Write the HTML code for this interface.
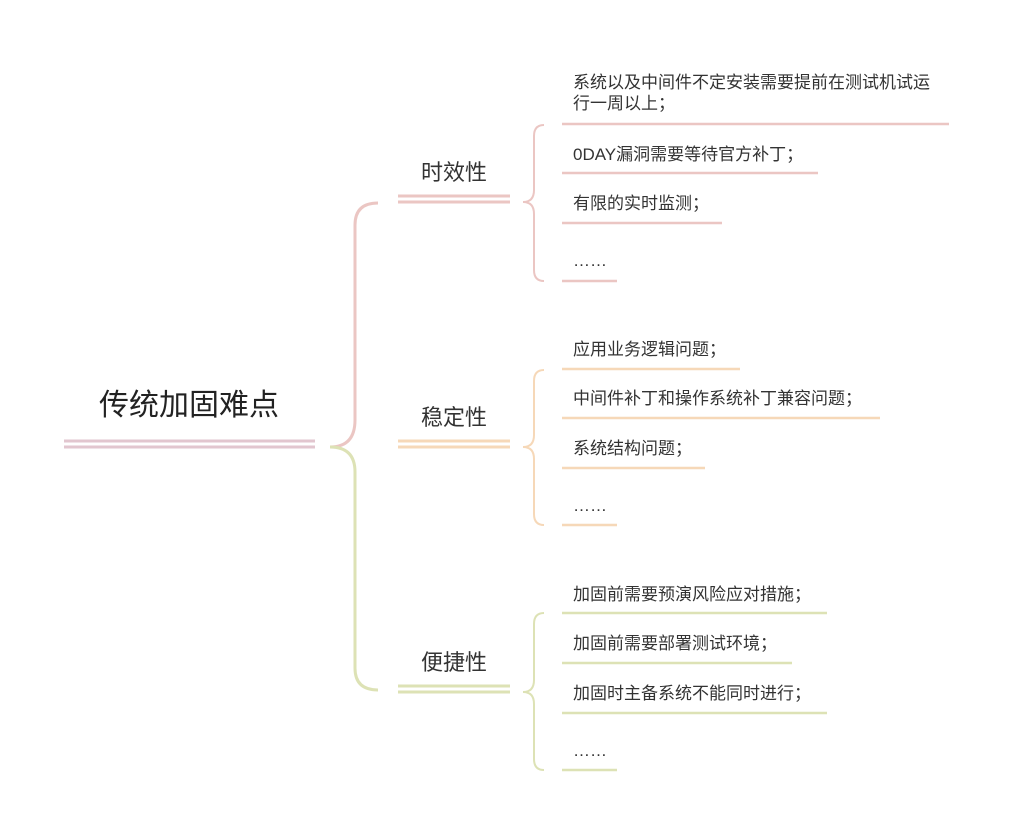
<!DOCTYPE html>
<html><head><meta charset="utf-8"><style>
html,body{margin:0;padding:0;background:#fff;}
svg text{font-family:"Liberation Sans","Noto Sans CJK SC",sans-serif;fill:#333;}
</style></head><body>
<svg width="1012" height="835" viewBox="0 0 1012 835" xmlns="http://www.w3.org/2000/svg">
<g fill="none" stroke-width="3" stroke-linecap="butt">
<line x1="64" y1="441" x2="315" y2="441" stroke="#e2c6cf"/>
<line x1="64" y1="447" x2="315" y2="447" stroke="#e2c6cf"/>
<path d="M330,447 Q355,447 355,420 L355,225 Q355,203 378,203" stroke="#ebc6c3"/>
<path d="M330,447 Q355,447 355,472 L355,668 Q355,690 378,690" stroke="#dde2b5"/>
<g stroke="#ebc6c3"><line x1="398" y1="196" x2="510" y2="196"/><line x1="398" y1="202" x2="510" y2="202"/></g>
<g stroke="#f6d8b8"><line x1="398" y1="441" x2="510" y2="441"/><line x1="398" y1="447" x2="510" y2="447"/></g>
<g stroke="#dde2b5"><line x1="398" y1="686" x2="510" y2="686"/><line x1="398" y1="692" x2="510" y2="692"/></g>
<path d="M523,202 Q534,202 534,190 L534,136 Q534,125 544,125 M534,214 Q534,202 523,202 M534,214 L534,270 Q534,281 544,281" stroke="#ebc6c3" stroke-width="2"/>
<path d="M523,447 Q534,447 534,435 L534,381 Q534,370 544,370 M534,459 Q534,447 523,447 M534,459 L534,514 Q534,525 544,525" stroke="#f6d8b8" stroke-width="2"/>
<path d="M523,692 Q534,692 534,680 L534,624 Q534,613 544,613 M534,704 Q534,692 523,692 M534,704 L534,759 Q534,770 544,770" stroke="#dde2b5" stroke-width="2"/>
<g stroke="#ebc6c3" stroke-width="2.5">
<line x1="562" y1="124" x2="949" y2="124"/><line x1="562" y1="173" x2="818" y2="173"/>
<line x1="562" y1="223" x2="722" y2="223"/><line x1="562" y1="281" x2="617" y2="281"/></g>
<g stroke="#f6d8b8" stroke-width="2.5">
<line x1="562" y1="369" x2="740" y2="369"/><line x1="562" y1="418" x2="880" y2="418"/>
<line x1="562" y1="468" x2="705" y2="468"/><line x1="562" y1="525" x2="617" y2="525"/></g>
<g stroke="#dde2b5" stroke-width="2.5">
<line x1="562" y1="613" x2="827" y2="613"/><line x1="562" y1="663" x2="792" y2="663"/>
<line x1="562" y1="713" x2="827" y2="713"/><line x1="562" y1="770" x2="617" y2="770"/></g>
</g>
<text x="189" y="415" font-size="30" text-anchor="middle" style="fill:#222">传统加固难点</text>
<g font-size="22" text-anchor="middle">
<text x="454" y="180">时效性</text><text x="454" y="425">稳定性</text><text x="454" y="670">便捷性</text>
</g>
<g font-size="17">
<text x="573" y="88">系统以及中间件不定安装需要提前在测试机试运</text>
<text x="573" y="109">行一周以上；</text>
<text x="573" y="160">0DAY漏洞需要等待官方补丁；</text>
<text x="573" y="209">有限的实时监测；</text>
<text x="573" y="266">……</text>
<text x="573" y="355">应用业务逻辑问题；</text>
<text x="573" y="404">中间件补丁和操作系统补丁兼容问题；</text>
<text x="573" y="454">系统结构问题；</text>
<text x="573" y="511">……</text>
<text x="573" y="600">加固前需要预演风险应对措施；</text>
<text x="573" y="649">加固前需要部署测试环境；</text>
<text x="573" y="699">加固时主备系统不能同时进行；</text>
<text x="573" y="756">……</text>
</g>
</svg>
</body></html>
